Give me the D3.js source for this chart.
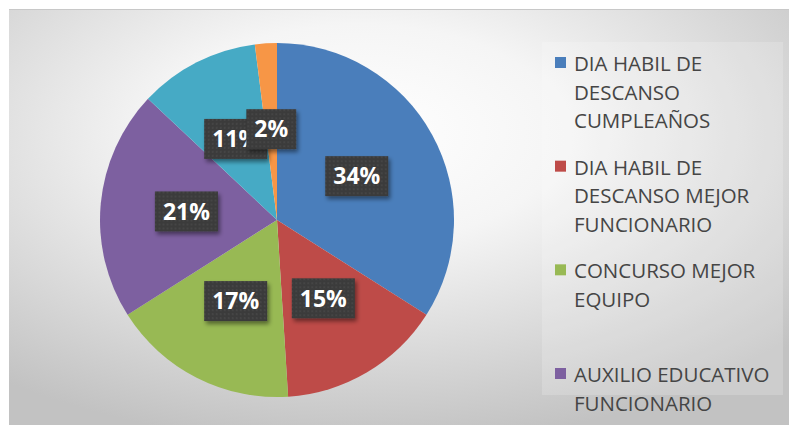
<!DOCTYPE html>
<html>
<head>
<meta charset="utf-8">
<script src="https://cdnjs.cloudflare.com/ajax/libs/d3/7.8.5/d3.min.js"></script>
<style>
  html, body { margin: 0; padding: 0; background: #ffffff; }
  svg { display: block; }
</style>
</head>
<body>
<div class="container"></div>
<script>
const WIDTH = 789;
const HEIGHT = 425;

// slices clockwise from 12 o'clock, values in percent
var categories = [
    "DIA HABIL DE DESCANSO CUMPLEAÑOS",
    "DIA HABIL DE DESCANSO MEJOR FUNCIONARIO",
    "CONCURSO MEJOR EQUIPO",
    "AUXILIO EDUCATIVO FUNCIONARIO",
    null,   // legend entry not visible in the picture
    null
];
var values = [34, 15, 17, 21, 11, 2];
var colors = ["#4a7ebb", "#be4b48", "#98b954", "#7d60a0", "#46aac5", "#f79646"];

// legend text, already wrapped as in the picture
var legendLines = [
    ["DIA HABIL DE", "DESCANSO", "CUMPLEAÑOS"],
    ["DIA HABIL DE", "DESCANSO MEJOR", "FUNCIONARIO"],
    ["CONCURSO MEJOR", "EQUIPO"],
    ["AUXILIO EDUCATIVO", "FUNCIONARIO"]
];

var CX = 277, CY = 220, R = 177;

var svg = d3.select('.container').append('svg')
    .attr('width', WIDTH)
    .attr('height', HEIGHT);

var defs = svg.append('defs');

var bg = defs.append('radialGradient')
    .attr('id', 'bg')
    .attr('cx', '45%').attr('cy', '30%').attr('r', '75%');
bg.append('stop').attr('offset', '0%').attr('stop-color', '#ffffff');
bg.append('stop').attr('offset', '35%').attr('stop-color', '#f5f5f5');
bg.append('stop').attr('offset', '100%').attr('stop-color', '#c2c2c2');

var dots = defs.append('pattern')
    .attr('id', 'dots')
    .attr('width', 4).attr('height', 4)
    .attr('patternUnits', 'userSpaceOnUse');
dots.append('rect').attr('width', 4).attr('height', 4).attr('fill', '#3b3b3b');
dots.append('circle').attr('cx', 1).attr('cy', 1).attr('r', 0.8).attr('fill', '#525252');

var shadow = defs.append('filter')
    .attr('id', 'shadow')
    .attr('x', '-30%').attr('y', '-30%').attr('width', '170%').attr('height', '170%');
shadow.append('feDropShadow')
    .attr('dx', 2).attr('dy', 3)
    .attr('stdDeviation', 2)
    .attr('flood-color', '#000000')
    .attr('flood-opacity', 0.45);

// chart area
svg.append('rect')
    .attr('x', 9).attr('y', 9)
    .attr('width', WIDTH - 9).attr('height', HEIGHT - 9)
    .attr('fill', 'url(#bg)');
svg.append('line')
    .attr('x1', 9).attr('x2', WIDTH)
    .attr('y1', 9.5).attr('y2', 9.5)
    .attr('stroke', '#c8c8c8');

// legend box
svg.append('rect')
    .attr('x', 542).attr('y', 42)
    .attr('width', 241).attr('height', 353)
    .attr('fill', '#ffffff')
    .attr('fill-opacity', 0.18);

var pie = d3.pie().sort(null).value(function (d) { return d; });
var arcs = pie(values);

var arc = d3.arc().innerRadius(0).outerRadius(R);
var labelArc = d3.arc().innerRadius(91).outerRadius(91);

var g = svg.append('g')
    .attr('transform', 'translate(' + CX + ',' + CY + ')');

g.selectAll('path').data(arcs)
    .enter().append('path')
    .attr('d', arc)
    .attr('fill', function (d, i) { return colors[i]; });

var labels = g.selectAll('g.lbl').data(arcs)
    .enter().append('g')
    .attr('class', 'lbl')
    .attr('transform', function (d) { return 'translate(' + labelArc.centroid(d) + ')'; });

labels.append('rect')
    .attr('fill', 'url(#dots)')
    .attr('filter', 'url(#shadow)');

labels.append('text')
    .attr('text-anchor', 'middle')
    .attr('dy', '0.36em')
    .attr('fill', '#ffffff')
    .style('font-family', '"Open Sans", sans-serif')
    .style('font-weight', 'bold')
    .style('font-size', '23px')
    .text(function (d) { return d.data + '%'; });

labels.each(function () {
    var t = d3.select(this).select('text').node();
    var w = t.getComputedTextLength() + 16;
    d3.select(this).select('rect')
        .attr('x', -w / 2).attr('y', -20)
        .attr('width', w).attr('height', 40);
});

// legend
var legendY = d3.scaleLinear().domain([0, 3]).range([71, 382]);
var LINE = 28.5;

var legend = svg.append('g').selectAll('g')
    .data(legendLines)
    .enter().append('g')
    .attr('transform', function (d, i) { return 'translate(555,' + legendY(i) + ')'; });

legend.append('rect')
    .attr('x', 0).attr('y', -14)
    .attr('width', 11).attr('height', 11)
    .attr('fill', function (d, i) { return colors[i]; });

legend.append('text')
    .attr('x', 19)
    .attr('fill', '#454545')
    .style('font-family', '"Open Sans", sans-serif')
    .style('font-size', '20.5px')
    .selectAll('tspan')
    .data(function (d) { return d; })
    .enter().append('tspan')
    .attr('x', 19)
    .attr('y', function (d, j) { return j * LINE; })
    .text(function (d) { return d; });
</script>
</body>
</html>
